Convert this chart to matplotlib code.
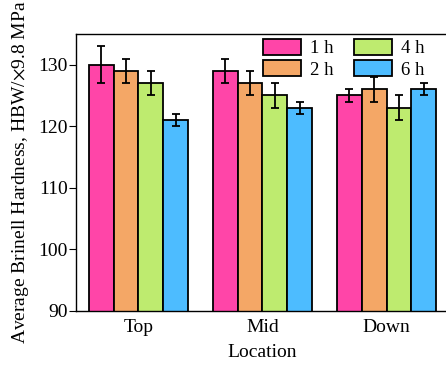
import numpy as np
import matplotlib.pyplot as plt
from matplotlib.patches import Patch

plt.rcParams['font.family'] = ['Liberation Serif', 'DejaVu Serif']
plt.rcParams['mathtext.fontset'] = 'stix'

locations = ['Top', 'Mid', 'Down']
durations = ['1 h', '2 h', '4 h', '6 h']
colors = ['#FF45A8', '#F4A766', '#BEEB6F', '#4DBCFF']

# mean hardness and error per duration, ordered Top/Mid/Down
hardness = {
    '1 h': [130, 129, 125],
    '2 h': [129, 127, 126],
    '4 h': [127, 125, 123],
    '6 h': [121, 123, 126],
}
errors = {
    '1 h': [3, 2, 1],
    '2 h': [2, 2, 2],
    '4 h': [2, 2, 2],
    '6 h': [1, 1, 1],
}

fig = plt.figure(figsize=(4.46, 3.69), dpi=100)
ax = fig.add_axes([0.171, 0.158, 0.835, 0.75])

x = np.arange(len(locations))
w = 0.2
for i, d in enumerate(durations):
    ax.bar(x + (i - 1.5) * w, hardness[d], w, yerr=errors[d],
           color=colors[i], edgecolor='black', linewidth=1.3,
           error_kw=dict(ecolor='black', elinewidth=1.3, capsize=3, capthick=1.3))

ax.set_xlim(-0.5, 2.5)
ax.set_ylim(90, 135)
ax.set_yticks([90, 100, 110, 120, 130])
ax.set_xticks(x)
ax.set_xticklabels(locations, fontsize=14)
ax.tick_params(axis='y', labelsize=14, direction='out', length=5, pad=1)
ax.tick_params(axis='x', length=0, pad=6)
ax.set_xlabel('Location', fontsize=14, labelpad=6)
ax.set_ylabel('Average Brinell Hardness, HBW/$\\times$9.8 MPa', fontsize=14, labelpad=5)
for s in ['top', 'left', 'bottom', 'right']:
    ax.spines[s].set_linewidth(1.0)

handles = [Patch(facecolor=c, edgecolor='black', linewidth=1.3) for c in colors]
ax.legend(handles, durations, ncol=2, loc='upper right', bbox_to_anchor=(0.935, 0.982),
          frameon=False, fontsize=13.5, handlelength=2.0, handleheight=0.95,
          columnspacing=1.1, labelspacing=0.15, handletextpad=0.5,
          borderpad=0, borderaxespad=0)

fig.savefig('out.png', dpi=100)
